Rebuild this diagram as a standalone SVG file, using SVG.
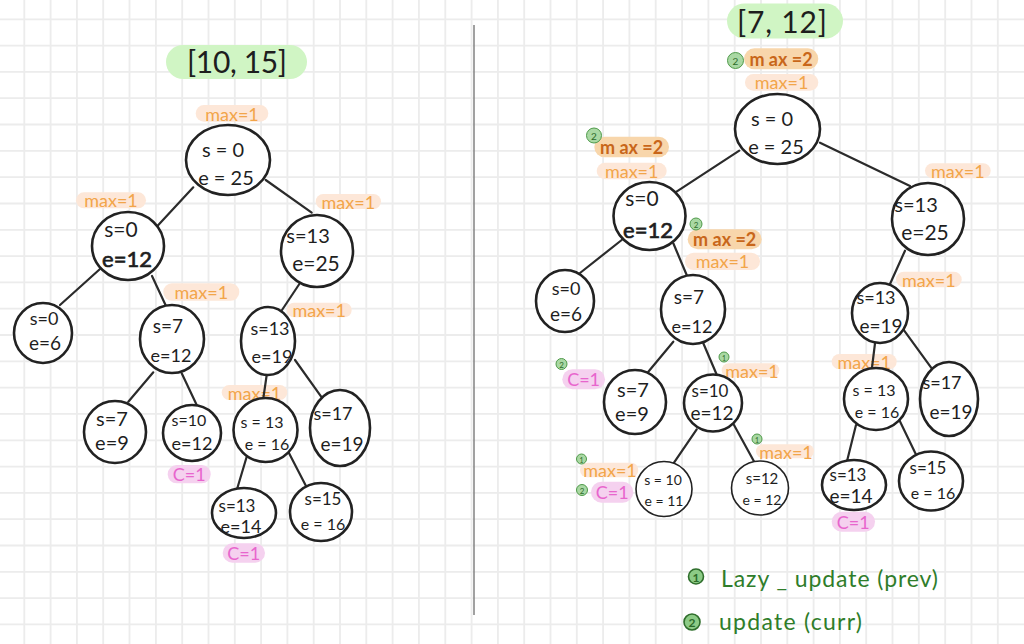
<svg xmlns="http://www.w3.org/2000/svg" width="1024" height="644" viewBox="0 0 1024 644">
<style>
.grid{stroke:#ececec;stroke-width:1.8;fill:none}
.node{fill:#ffffff;stroke:#222;stroke-width:2.6}
.thin{stroke-width:1.6}
.nt{font-family:Lato,"Liberation Sans",sans-serif;fill:#1e1e1e;text-anchor:middle}
.hv{stroke:#1e1e1e;stroke-width:0.7}
.edge{stroke:#2b2b2b;stroke-width:2.2;stroke-linecap:round;fill:none}
.pl{fill:#fde7d8}
.pd{fill:#f8d6ab}
.pc{fill:#f5d1ef}
.pg{fill:#d0f5c4}
.tl{font-family:Lato,"Liberation Sans",sans-serif;font-size:18px;fill:#f2a54a;text-anchor:middle;dominant-baseline:central}
.td{font-family:Lato,"Liberation Sans",sans-serif;font-size:18px;font-weight:700;fill:#c8661a;text-anchor:middle;dominant-baseline:central}
.tc{font-family:Lato,"Liberation Sans",sans-serif;font-size:18px;fill:#e865cd;text-anchor:middle;dominant-baseline:central}
.tg{font-family:Lato,"Liberation Sans",sans-serif;font-size:30px;fill:#1e1e1e;text-anchor:middle}
.bd{fill:#a9d8a3;stroke:#4f9a4a;stroke-width:1}
.bt{font-family:Lato,"Liberation Sans",sans-serif;fill:#2d6b2a;text-anchor:middle;dominant-baseline:central}
.lg{font-family:Lato,"Liberation Sans",sans-serif;font-size:23px;fill:#2f7d2a}
</style>
<rect width="1024" height="644" fill="#ffffff"/>
<path class="grid" d="M24.3 0V644M50.6 0V644M76.9 0V644M103.2 0V644M129.5 0V644M155.9 0V644M182.2 0V644M208.5 0V644M234.8 0V644M261.1 0V644M287.4 0V644M313.7 0V644M340 0V644M366.3 0V644M392.6 0V644M418.9 0V644M445.3 0V644M471.6 0V644M497.9 0V644M524.2 0V644M550.5 0V644M576.8 0V644M603.1 0V644M629.4 0V644M655.7 0V644M682.1 0V644M708.4 0V644M734.7 0V644M761 0V644M787.3 0V644M813.6 0V644M839.9 0V644M866.2 0V644M892.5 0V644M918.8 0V644M945.2 0V644M971.5 0V644M997.8 0V644M0 19.3H1024M0 45.6H1024M0 71.9H1024M0 98.2H1024M0 124.5H1024M0 150.9H1024M0 177.2H1024M0 203.5H1024M0 229.8H1024M0 256.1H1024M0 282.4H1024M0 308.7H1024M0 335H1024M0 361.3H1024M0 387.6H1024M0 413.9H1024M0 440.3H1024M0 466.6H1024M0 492.9H1024M0 519.2H1024M0 545.5H1024M0 571.8H1024M0 598.1H1024M0 624.4H1024"/>
<line x1="474" y1="25" x2="474" y2="615" stroke="#8a8a8a" stroke-width="1.6"/>

<g id="range-left">
<rect class="pg" x="166" y="45" width="141" height="34" rx="17"/>
<text class="tg" x="237" y="73" textLength="100" lengthAdjust="spacing">[10, 15]</text>
</g>
<g id="range-right">
<rect class="pg" x="727" y="3.5" width="116" height="35" rx="17.5"/>
<text class="tg" x="782" y="33" textLength="90" lengthAdjust="spacing">[7, 12]</text>
</g>

<g id="annotations">
<rect class="pl" x="195.7" y="105" width="72.6" height="16.7" rx="8.3"/><text class="tl" x="232" y="113.5">max=1</text>
<rect class="pl" x="76" y="192.3" width="70" height="16" rx="8"/><text class="tl" x="111" y="200.3">max=1</text>
<rect class="pl" x="315.7" y="194" width="65.3" height="15" rx="7.5"/><text class="tl" x="348.3" y="201.5">max=1</text>
<rect class="pl" x="163.3" y="283.3" width="76" height="17.4" rx="8.7"/><text class="tl" x="201.3" y="292">max=1</text>
<rect class="pl" x="286.7" y="302.7" width="65" height="14.6" rx="7.3"/><text class="tl" x="319.2" y="310">max=1</text>
<rect class="pl" x="221.7" y="385" width="65.6" height="15" rx="7.5"/><text class="tl" x="254.5" y="392.5">max=1</text>
<rect class="pc" x="167.7" y="465" width="43" height="18.3" rx="9"/><text class="tc" x="189.2" y="474.2">C=1</text>
<rect class="pc" x="222.7" y="543.3" width="42.3" height="19.4" rx="9.7"/><text class="tc" x="243.8" y="553">C=1</text>

<rect class="pd" x="744" y="48.3" width="74.3" height="21" rx="10.5"/><text class="td" x="781" y="58.8">m ax =2</text>
<rect class="pl" x="745" y="74" width="73.3" height="16.7" rx="8.3"/><text class="tl" x="781.6" y="82.4">max=1</text>
<rect class="pd" x="594.3" y="136.7" width="74.7" height="20.6" rx="10.3"/><text class="td" x="631.6" y="147">m ax =2</text>
<rect class="pl" x="596.7" y="162.7" width="70" height="16.6" rx="8.3"/><text class="tl" x="631.7" y="171">max=1</text>
<rect class="pl" x="925" y="163.3" width="65.7" height="15" rx="7.5"/><text class="tl" x="957.8" y="170.8">max=1</text>
<rect class="pd" x="687.7" y="229.3" width="74" height="20" rx="10"/><text class="td" x="724.7" y="239.3">m ax =2</text>
<rect class="pl" x="685" y="252.7" width="75" height="17.3" rx="8.6"/><text class="tl" x="722.5" y="261.3">max=1</text>
<rect class="pl" x="896" y="271.7" width="65.7" height="15.6" rx="7.8"/><text class="tl" x="928.8" y="279.5">max=1</text>
<rect class="pl" x="721.7" y="363.3" width="57.6" height="14" rx="7"/><text class="tl" x="752" y="370.5" font-size="16">max=1</text>
<rect class="pl" x="831.7" y="354" width="65" height="15.3" rx="7.6"/><text class="tl" x="864.2" y="361.6">max=1</text>
<rect class="pl" x="756" y="444.3" width="58" height="14" rx="7"/><text class="tl" x="786" y="451.5" font-size="16">max=1</text>
<rect class="pl" x="580" y="462.7" width="58.3" height="14.6" rx="7.3"/><text class="tl" x="610" y="470.2" font-size="16">max=1</text>
<rect class="pc" x="562.3" y="369.3" width="42.7" height="20" rx="10"/><text class="tc" x="583.6" y="379.3">C=1</text>
<rect class="pc" x="591" y="481.7" width="42.3" height="21" rx="10.5"/><text class="tc" x="612.2" y="492.2">C=1</text>
<rect class="pc" x="831.7" y="511.7" width="43.3" height="20" rx="10"/><text class="tc" x="853.3" y="521.7">C=1</text>

<circle class="bd" cx="735.5" cy="60.5" r="8"/><text class="bt" x="735.5" y="61" font-size="10">2</text>
<circle class="bd" cx="594" cy="135.5" r="7.5"/><text class="bt" x="594" y="136" font-size="10">2</text>
<circle class="bd" cx="696" cy="224" r="6"/><text class="bt" x="696" y="224.5" font-size="8">2</text>
<circle class="bd" cx="561.5" cy="364" r="5.5"/><text class="bt" x="561.5" y="364.5" font-size="8">2</text>
<circle class="bd" cx="582" cy="490" r="5.5"/><text class="bt" x="582" y="490.5" font-size="8">2</text>
<circle class="bd" cx="724" cy="357" r="5"/><text class="bt" x="724" y="357.5" font-size="7">1</text>
<circle class="bd" cx="757" cy="439" r="5"/><text class="bt" x="757" y="439.5" font-size="7">1</text>
<circle class="bd" cx="581.5" cy="459" r="5"/><text class="bt" x="581.5" y="459.5" font-size="7">1</text>
</g>

<g id="connectors">
<line class="edge" x1="193.3" y1="187.3" x2="156.7" y2="226.7"/>
<line class="edge" x1="265.7" y1="180" x2="311.7" y2="212.7"/>
<line class="edge" x1="100" y1="269" x2="60" y2="305"/>
<line class="edge" x1="152" y1="276" x2="166" y2="306"/>
<line class="edge" x1="300" y1="283" x2="282" y2="310"/>
<line class="edge" x1="153.3" y1="372.3" x2="128.3" y2="401.7"/>
<line class="edge" x1="181.7" y1="373.3" x2="196.7" y2="405"/>
<line class="edge" x1="266.7" y1="375" x2="263.3" y2="398.3"/>
<line class="edge" x1="295" y1="360" x2="321.7" y2="397.3"/>
<line class="edge" x1="246.7" y1="456.7" x2="237.3" y2="488.3"/>
<line class="edge" x1="288.3" y1="451.7" x2="306" y2="486"/>

<line class="edge" x1="739.3" y1="150.7" x2="675" y2="192.7"/>
<line class="edge" x1="820" y1="142.7" x2="910" y2="186"/>
<line class="edge" x1="621.7" y1="240" x2="580" y2="273"/>
<line class="edge" x1="673.3" y1="243.3" x2="686.7" y2="275"/>
<line class="edge" x1="905" y1="250.7" x2="890" y2="284"/>
<line class="edge" x1="673.3" y1="341.7" x2="648.3" y2="371.7"/>
<line class="edge" x1="703.3" y1="343.3" x2="717.3" y2="376"/>
<line class="edge" x1="875" y1="343.3" x2="871.7" y2="370"/>
<line class="edge" x1="903.3" y1="329.3" x2="931.7" y2="368.3"/>
<line class="edge" x1="696.7" y1="429.3" x2="674" y2="462.7"/>
<line class="edge" x1="734" y1="425" x2="755" y2="463.3"/>
<line class="edge" x1="856" y1="425" x2="847.3" y2="460"/>
<line class="edge" x1="899.3" y1="420" x2="916.7" y2="456"/>
</g>

<g id="L-0-25"><ellipse class="node" cx="228" cy="160" rx="42" ry="35"/><text class="nt" x="223" y="157" font-size="20">s = 0</text><text class="nt" x="226" y="185" font-size="20">e = 25</text></g>
<g id="L-0-12"><ellipse class="node" cx="128" cy="246" rx="36" ry="34"/><text class="nt" x="121" y="237" font-size="21">s=0</text><text class="nt hv" x="127" y="267" font-size="22">e=12</text></g>
<g id="L-13-25"><ellipse class="node" cx="317" cy="251" rx="36" ry="36"/><text class="nt" x="308" y="243" font-size="20">s=13</text><text class="nt" x="316" y="271" font-size="21">e=25</text></g>
<g id="L-0-6"><ellipse class="node" cx="43" cy="333" rx="29" ry="30"/><text class="nt" x="44" y="325" font-size="18">s=0</text><text class="nt" x="45" y="350" font-size="19">e=6</text></g>
<g id="L-7-12"><ellipse class="node" cx="172" cy="339" rx="32" ry="34"/><text class="nt" x="168" y="333" font-size="19">s=7</text><text class="nt" x="171" y="362" font-size="18">e=12</text></g>
<g id="L-13-19"><ellipse class="node" cx="268" cy="341" rx="27" ry="34"/><text class="nt" x="270" y="335" font-size="18">s=13</text><text class="nt" x="272" y="363" font-size="18">e=19</text></g>
<g id="L-7-9"><ellipse class="node" cx="115" cy="432" rx="31" ry="31"/><text class="nt" x="112" y="426" font-size="20">s=7</text><text class="nt" x="112" y="450" font-size="20">e=9</text></g>
<g id="L-10-12"><ellipse class="node" cx="192" cy="433" rx="29" ry="28"/><text class="nt" x="189" y="426" font-size="16">s=10</text><text class="nt" x="192" y="450" font-size="18">e=12</text></g>
<g id="L-13-16"><ellipse class="node" cx="265.5" cy="430" rx="32" ry="32"/><text class="nt" x="262" y="428" font-size="16">s = 13</text><text class="nt" x="267" y="450" font-size="16">e = 16</text></g>
<g id="L-17-19"><ellipse class="node" cx="340" cy="428" rx="30" ry="38"/><text class="nt" x="333" y="420" font-size="18">s=17</text><text class="nt" x="342" y="451" font-size="19">e=19</text></g>
<g id="L-13-14"><ellipse class="node" cx="244" cy="513" rx="32" ry="25"/><text class="nt" x="237" y="512" font-size="17">s=13</text><text class="nt" x="241" y="533" font-size="18">e=14</text></g>
<g id="L-15-16"><ellipse class="node" cx="321" cy="512" rx="31" ry="29"/><text class="nt" x="323" y="505" font-size="17">s=15</text><text class="nt" x="323" y="530" font-size="16">e = 16</text></g>

<g id="R-0-25"><ellipse class="node" cx="777.5" cy="129" rx="42.5" ry="35"/><text class="nt" x="772" y="126" font-size="20">s = 0</text><text class="nt" x="776" y="154" font-size="20">e = 25</text></g>
<g id="R-0-12"><ellipse class="node" cx="649.5" cy="216" rx="36" ry="34"/><text class="nt" x="642" y="206" font-size="21">s=0</text><text class="nt hv" x="648" y="238" font-size="22">e=12</text></g>
<g id="R-13-25"><ellipse class="node" cx="928" cy="219" rx="36" ry="36"/><text class="nt" x="916" y="212" font-size="20">s=13</text><text class="nt" x="925" y="240" font-size="21">e=25</text></g>
<g id="R-0-6"><ellipse class="node" cx="565" cy="301" rx="29" ry="31"/><text class="nt" x="566" y="295" font-size="18">s=0</text><text class="nt" x="566" y="321" font-size="19">e=6</text></g>
<g id="R-7-12"><ellipse class="node" cx="693" cy="309.5" rx="32" ry="34.5"/><text class="nt" x="689" y="304" font-size="19">s=7</text><text class="nt" x="692" y="333" font-size="18">e=12</text></g>
<g id="R-13-19"><ellipse class="node" cx="880" cy="313" rx="28" ry="30"/><text class="nt" x="876" y="304" font-size="18">s=13</text><text class="nt" x="881" y="333" font-size="19">e=19</text></g>
<g id="R-7-9"><ellipse class="node" cx="635" cy="402" rx="31" ry="32"/><text class="nt" x="633" y="397" font-size="20">s=7</text><text class="nt" x="632" y="421" font-size="20">e=9</text></g>
<g id="R-10-12"><ellipse class="node" cx="713" cy="403" rx="29" ry="28.5"/><text class="nt" x="710" y="397" font-size="17">s=10</text><text class="nt" x="712" y="420" font-size="19">e=12</text></g>
<g id="R-13-16"><ellipse class="node" cx="876" cy="399" rx="32" ry="31"/><text class="nt" x="874" y="396" font-size="16">s = 13</text><text class="nt" x="877" y="418" font-size="16">e = 16</text></g>
<g id="R-17-19"><ellipse class="node" cx="949" cy="399" rx="29" ry="37"/><text class="nt" x="942" y="389" font-size="18">s=17</text><text class="nt" x="951" y="419" font-size="19">e=19</text></g>
<g id="R-10-11"><ellipse class="node thin" cx="664" cy="489" rx="28" ry="27.5"/><text class="nt" x="663" y="485" font-size="14">s = 10</text><text class="nt" x="664" y="506" font-size="14">e = 11</text></g>
<g id="R-12-12"><ellipse class="node thin" cx="760" cy="488" rx="28.5" ry="27"/><text class="nt" x="762" y="484" font-size="15">s=12</text><text class="nt" x="762" y="505" font-size="14">e = 12</text></g>
<g id="R-13-14"><ellipse class="node" cx="854" cy="485" rx="32" ry="25"/><text class="nt" x="848" y="481" font-size="17">s=13</text><text class="nt" x="851" y="503" font-size="19">e=14</text></g>
<g id="R-15-16"><ellipse class="node" cx="931" cy="481" rx="32" ry="29.5"/><text class="nt" x="928" y="474" font-size="17">s=15</text><text class="nt" x="933" y="499" font-size="16">e = 16</text></g>

<g id="legend">
<circle cx="696" cy="576.5" r="7.5" fill="#8ccb86" stroke="#2f6e2c" stroke-width="1.6"/><text class="bt" x="696" y="577" font-size="12" font-weight="700">1</text>
<text class="lg" x="721" y="587" textLength="217" lengthAdjust="spacing">Lazy _ update (prev)</text>
<circle cx="692" cy="622" r="8" fill="#8ccb86" stroke="#2f6e2c" stroke-width="1.6"/><text class="bt" x="692" y="622.5" font-size="12" font-weight="700">2</text>
<text class="lg" x="719" y="630" textLength="143" lengthAdjust="spacing">update (curr)</text>
</g>
</svg>
